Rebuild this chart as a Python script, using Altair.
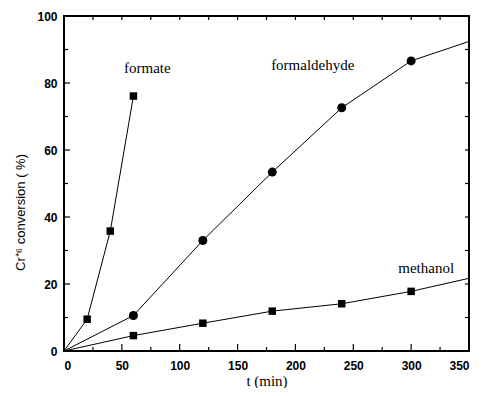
import altair as alt
import pandas as pd

# ---- data ----
formate_t = [0, 20, 40, 60]
formate_v = [0, 9.5, 35.8, 76.1]
formaldehyde_t = [0, 60, 120, 180, 240, 300, 350]
formaldehyde_v = [0, 10.6, 33.0, 53.4, 72.6, 86.6, 92.4]
methanol_t = [0, 60, 120, 180, 240, 300, 350]
methanol_v = [0, 4.6, 8.3, 11.9, 14.1, 17.8, 21.7]

label_text = ["formate", "formaldehyde", "methanol"]
label_t = [72, 215, 313]
label_v = [84.5, 85.4, 24.8]

x_major = [0, 50, 100, 150, 200, 250, 300, 350]
x_minor = [25, 75, 125, 175, 225, 275, 325]
y_major = [0, 20, 40, 60, 80, 100]
y_minor = [10, 30, 50, 70, 90]

W, H = 405, 335

rows = []
for name, ts, vs, shp in [("formate", formate_t, formate_v, "square"),
                          ("formaldehyde", formaldehyde_t, formaldehyde_v, "circle"),
                          ("methanol", methanol_t, methanol_v, "square")]:
    for i, (t, v) in enumerate(zip(ts, vs)):
        rows.append(dict(series=name, t=t, v=v, order=i, shape=shp,
                         marker=(t not in (0, 350))))
df = pd.DataFrame(rows)

xs = alt.Scale(domain=[0, 350], nice=False, zero=False)
ys = alt.Scale(domain=[0, 100], nice=False, zero=False)

xaxis = alt.Axis(values=x_major, ticks=False, domain=False, grid=False,
                 labelFont="Liberation Sans", labelFontWeight="bold", labelFontSize=12,
                 labelColor="black", labelPadding=9,
                 title="t (min)", titleFont="Liberation Serif", titleFontSize=15,
                 titleFontWeight="normal", titleColor="black", titlePadding=2)
yaxis = alt.Axis(values=y_major, ticks=False, domain=False, grid=False,
                 labelFont="Liberation Sans", labelFontWeight="bold", labelFontSize=12,
                 labelColor="black", labelPadding=7,
                 title="Cr⁺⁶ conversion ( %)", titleFont="Liberation Sans", titleFontSize=13,
                 titleFontWeight="normal", titleColor="black", titlePadding=9,
                 titleY=196)

X = alt.X("t:Q", scale=xs, axis=xaxis)
Y = alt.Y("v:Q", scale=ys, axis=yaxis)

lines = alt.Chart(df).mark_line(color="black", strokeWidth=1).encode(
    x=X, y=Y, detail="series:N", order="order:Q")

squares = alt.Chart(df).transform_filter(
    "datum.marker && datum.shape == 'square'").mark_point(
    shape="square", filled=True, color="black", opacity=1, size=56).encode(x=X, y=Y)
circles = alt.Chart(df).transform_filter(
    "datum.marker && datum.shape == 'circle'").mark_point(
    shape="circle", filled=True, color="black", opacity=1, size=81).encode(x=X, y=Y)

labels_df = pd.DataFrame({"t": label_t, "v": label_v, "text": label_text})
labels = alt.Chart(labels_df).mark_text(
    font="Liberation Serif", fontSize=15, color="black").encode(x=X, y=Y, text="text:N")

def xticks(vals, y0, y1):
    return alt.Chart(pd.DataFrame({"t": vals})).mark_rule(color="black", strokeWidth=1.2).encode(
        x=X, y=alt.value(y0), y2=alt.value(y1))

def yticks(vals, x0, x1):
    return alt.Chart(pd.DataFrame({"v": vals})).mark_rule(color="black", strokeWidth=1.2).encode(
        y=Y, x=alt.value(x0), x2=alt.value(x1))

ticks = [
    xticks(x_major, H, H - 7), xticks(x_minor, H, H - 4),
    xticks(x_major, 0, 4), xticks(x_minor, 0, 4),
    yticks(y_major, 0, 6), yticks(y_minor, 0, 4),
    yticks(y_major, W, W - 4), yticks(y_minor, W, W - 4),
]

chart = alt.layer(lines, squares, circles, labels, *ticks).properties(
    width=W, height=H,
    autosize=alt.AutoSizeParams(type="none"),
    padding={"left": 56, "top": 8, "right": 9, "bottom": 37},
    background="white",
).configure_view(stroke="black", strokeWidth=2)

chart.save("out.html", embed_options={"renderer": "svg", "actions": False})
